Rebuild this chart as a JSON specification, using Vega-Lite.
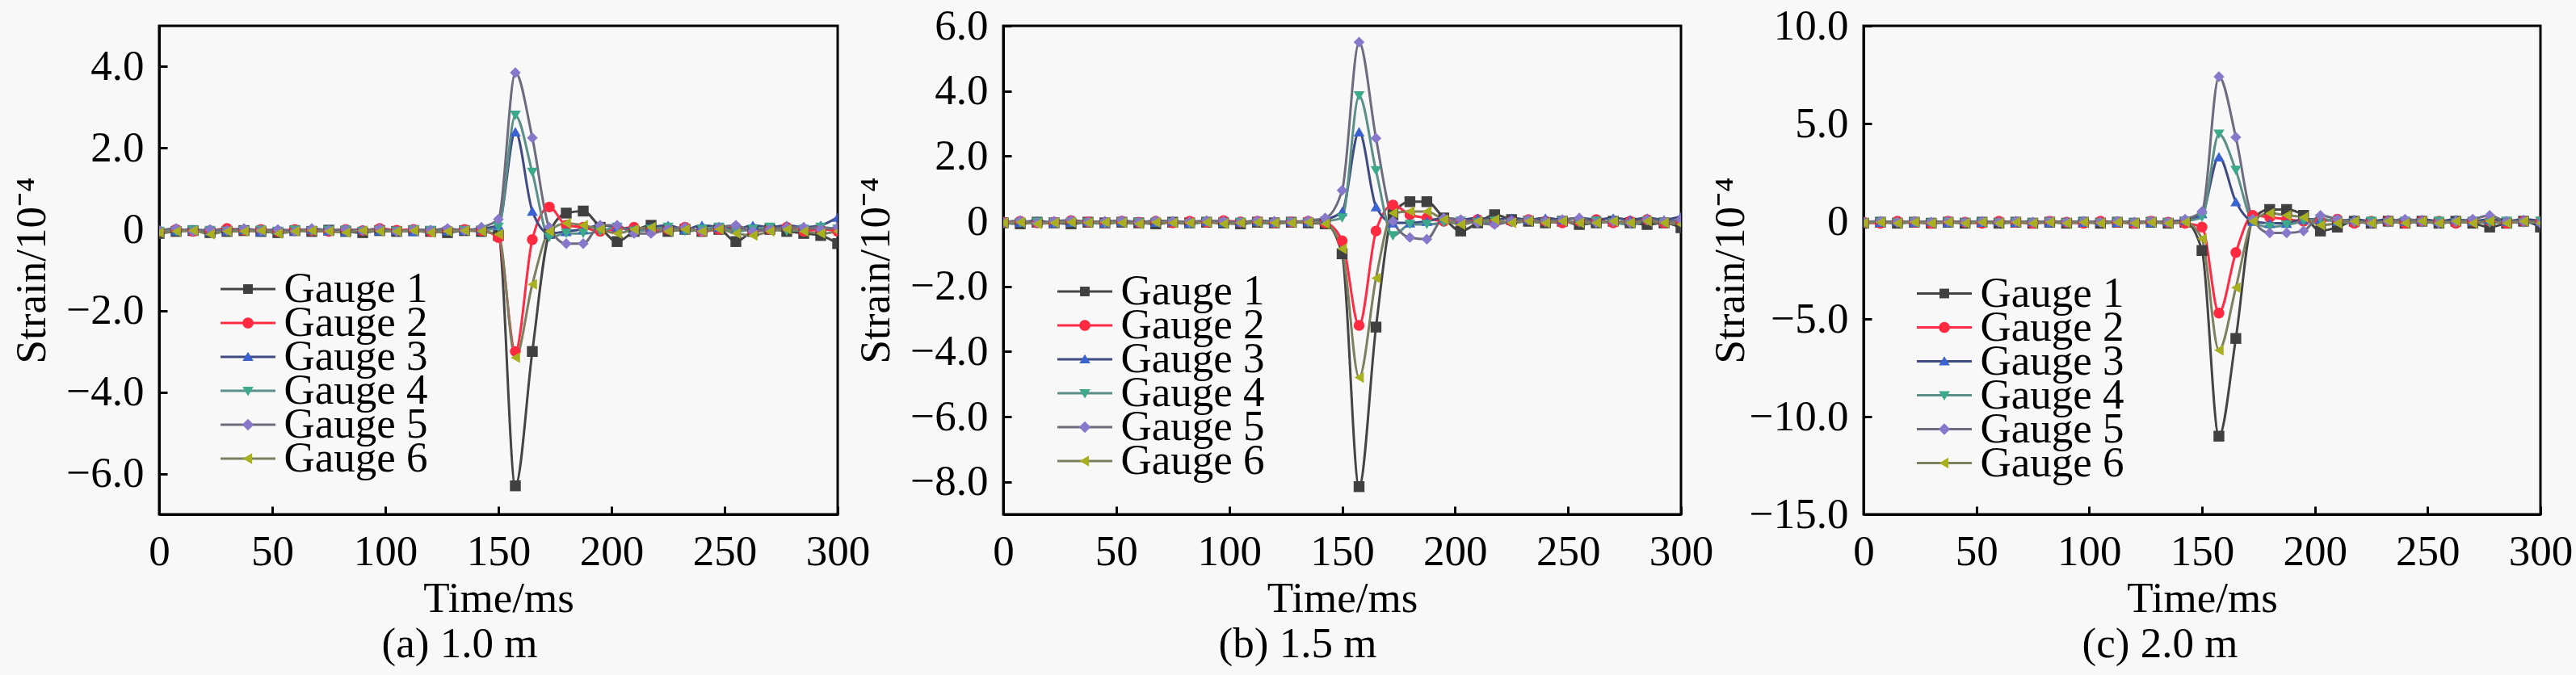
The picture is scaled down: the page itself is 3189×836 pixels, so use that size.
{
 "$schema": "https://vega.github.io/schema/vega-lite/v6.json",
 "autosize": {"type": "none"},
 "padding": {"left": 197, "top": 32, "right": 2992, "bottom": 804},
 "background": "#f8f8f8",
 "datasets": {
  "a": [
   {"t":0,"Gauge 1":-0.10,"Gauge 2":-0.05,"Gauge 3":0.00,"Gauge 4":-0.05,"Gauge 5":-0.03,"Gauge 6":-0.08},
   {"t":7.5,"Gauge 1":-0.05,"Gauge 2":0.00,"Gauge 3":-0.03,"Gauge 4":-0.05,"Gauge 5":0.02,"Gauge 6":-0.05},
   {"t":15,"Gauge 1":-0.03,"Gauge 2":-0.05,"Gauge 3":0.00,"Gauge 4":-0.02,"Gauge 5":-0.05,"Gauge 6":-0.03},
   {"t":22.5,"Gauge 1":-0.08,"Gauge 2":-0.03,"Gauge 3":-0.05,"Gauge 4":-0.03,"Gauge 5":0.00,"Gauge 6":-0.12},
   {"t":30,"Gauge 1":-0.05,"Gauge 2":0.02,"Gauge 3":-0.03,"Gauge 4":-0.05,"Gauge 5":-0.02,"Gauge 6":-0.05},
   {"t":37.5,"Gauge 1":-0.03,"Gauge 2":-0.02,"Gauge 3":0.00,"Gauge 4":-0.03,"Gauge 5":0.02,"Gauge 6":-0.05},
   {"t":45,"Gauge 1":-0.05,"Gauge 2":0.00,"Gauge 3":-0.05,"Gauge 4":-0.02,"Gauge 5":-0.03,"Gauge 6":-0.03},
   {"t":52.5,"Gauge 1":-0.08,"Gauge 2":-0.05,"Gauge 3":-0.02,"Gauge 4":-0.05,"Gauge 5":0.00,"Gauge 6":-0.10},
   {"t":60,"Gauge 1":-0.03,"Gauge 2":0.00,"Gauge 3":-0.03,"Gauge 4":-0.02,"Gauge 5":-0.05,"Gauge 6":-0.05},
   {"t":67.5,"Gauge 1":-0.05,"Gauge 2":-0.03,"Gauge 3":0.00,"Gauge 4":-0.05,"Gauge 5":0.02,"Gauge 6":-0.03},
   {"t":75,"Gauge 1":-0.02,"Gauge 2":-0.05,"Gauge 3":-0.03,"Gauge 4":-0.03,"Gauge 5":-0.02,"Gauge 6":-0.05},
   {"t":82.5,"Gauge 1":-0.05,"Gauge 2":0.00,"Gauge 3":-0.05,"Gauge 4":-0.02,"Gauge 5":0.00,"Gauge 6":-0.08},
   {"t":90,"Gauge 1":-0.08,"Gauge 2":-0.03,"Gauge 3":0.00,"Gauge 4":-0.05,"Gauge 5":-0.03,"Gauge 6":-0.03},
   {"t":97.5,"Gauge 1":-0.03,"Gauge 2":0.02,"Gauge 3":-0.03,"Gauge 4":-0.03,"Gauge 5":0.02,"Gauge 6":-0.05},
   {"t":105,"Gauge 1":-0.05,"Gauge 2":-0.02,"Gauge 3":-0.02,"Gauge 4":-0.05,"Gauge 5":-0.05,"Gauge 6":-0.05},
   {"t":112.5,"Gauge 1":-0.03,"Gauge 2":0.00,"Gauge 3":-0.05,"Gauge 4":-0.02,"Gauge 5":0.00,"Gauge 6":-0.03},
   {"t":120,"Gauge 1":-0.05,"Gauge 2":-0.05,"Gauge 3":0.00,"Gauge 4":-0.03,"Gauge 5":-0.02,"Gauge 6":-0.08},
   {"t":127.5,"Gauge 1":-0.08,"Gauge 2":-0.02,"Gauge 3":-0.03,"Gauge 4":-0.05,"Gauge 5":0.02,"Gauge 6":-0.05},
   {"t":135,"Gauge 1":-0.03,"Gauge 2":0.00,"Gauge 3":-0.02,"Gauge 4":-0.03,"Gauge 5":-0.03,"Gauge 6":-0.03},
   {"t":142.5,"Gauge 1":-0.05,"Gauge 2":-0.03,"Gauge 3":0.02,"Gauge 4":-0.02,"Gauge 5":0.05,"Gauge 6":-0.05},
   {"t":150,"Gauge 1":-0.15,"Gauge 2":-0.20,"Gauge 3":0.10,"Gauge 4":0.05,"Gauge 5":0.25,"Gauge 6":-0.12},
   {"t":157.5,"Gauge 1":-6.30,"Gauge 2":-3.00,"Gauge 3":2.40,"Gauge 4":2.80,"Gauge 5":3.85,"Gauge 6":-3.15},
   {"t":165,"Gauge 1":-3.00,"Gauge 2":-0.25,"Gauge 3":0.45,"Gauge 4":1.40,"Gauge 5":2.25,"Gauge 6":-1.35},
   {"t":172.5,"Gauge 1":-0.10,"Gauge 2":0.55,"Gauge 3":-0.10,"Gauge 4":-0.20,"Gauge 5":0.05,"Gauge 6":-0.05},
   {"t":180,"Gauge 1":0.40,"Gauge 2":0.10,"Gauge 3":-0.05,"Gauge 4":-0.10,"Gauge 5":-0.35,"Gauge 6":0.15},
   {"t":187.5,"Gauge 1":0.45,"Gauge 2":0.05,"Gauge 3":0.00,"Gauge 4":-0.10,"Gauge 5":-0.35,"Gauge 6":0.10},
   {"t":195,"Gauge 1":0.05,"Gauge 2":-0.05,"Gauge 3":0.10,"Gauge 4":-0.05,"Gauge 5":0.10,"Gauge 6":0.00},
   {"t":202.5,"Gauge 1":-0.30,"Gauge 2":0.00,"Gauge 3":0.05,"Gauge 4":0.05,"Gauge 5":0.10,"Gauge 6":-0.10},
   {"t":210,"Gauge 1":-0.05,"Gauge 2":0.05,"Gauge 3":0.00,"Gauge 4":-0.05,"Gauge 5":-0.10,"Gauge 6":0.00},
   {"t":217.5,"Gauge 1":0.10,"Gauge 2":-0.05,"Gauge 3":0.05,"Gauge 4":0.00,"Gauge 5":-0.10,"Gauge 6":0.05},
   {"t":225,"Gauge 1":-0.05,"Gauge 2":0.00,"Gauge 3":0.10,"Gauge 4":0.05,"Gauge 5":0.00,"Gauge 6":-0.05},
   {"t":232.5,"Gauge 1":0.00,"Gauge 2":0.05,"Gauge 3":0.00,"Gauge 4":-0.05,"Gauge 5":0.05,"Gauge 6":0.00},
   {"t":240,"Gauge 1":-0.05,"Gauge 2":-0.05,"Gauge 3":0.10,"Gauge 4":0.00,"Gauge 5":-0.05,"Gauge 6":-0.05},
   {"t":247.5,"Gauge 1":0.00,"Gauge 2":0.00,"Gauge 3":0.05,"Gauge 4":0.05,"Gauge 5":0.05,"Gauge 6":0.00},
   {"t":255,"Gauge 1":-0.30,"Gauge 2":0.05,"Gauge 3":0.00,"Gauge 4":-0.05,"Gauge 5":0.10,"Gauge 6":-0.10},
   {"t":262.5,"Gauge 1":-0.05,"Gauge 2":-0.05,"Gauge 3":0.10,"Gauge 4":0.00,"Gauge 5":-0.05,"Gauge 6":-0.15},
   {"t":270,"Gauge 1":0.00,"Gauge 2":0.00,"Gauge 3":0.05,"Gauge 4":0.05,"Gauge 5":0.00,"Gauge 6":-0.05},
   {"t":277.5,"Gauge 1":-0.05,"Gauge 2":0.05,"Gauge 3":0.10,"Gauge 4":-0.05,"Gauge 5":0.05,"Gauge 6":0.00},
   {"t":285,"Gauge 1":-0.10,"Gauge 2":-0.05,"Gauge 3":0.05,"Gauge 4":0.00,"Gauge 5":0.05,"Gauge 6":-0.05},
   {"t":292.5,"Gauge 1":-0.15,"Gauge 2":0.00,"Gauge 3":0.10,"Gauge 4":0.05,"Gauge 5":0.00,"Gauge 6":-0.10},
   {"t":300,"Gauge 1":-0.35,"Gauge 2":-0.05,"Gauge 3":0.30,"Gauge 4":0.00,"Gauge 5":0.05,"Gauge 6":-0.05}
  ],
  "b": [
   {"t":0,"Gauge 1":-0.05,"Gauge 2":-0.03,"Gauge 3":0.00,"Gauge 4":-0.08,"Gauge 5":-0.03,"Gauge 6":-0.05},
   {"t":7.5,"Gauge 1":-0.08,"Gauge 2":0.00,"Gauge 3":-0.03,"Gauge 4":-0.05,"Gauge 5":0.02,"Gauge 6":-0.03},
   {"t":15,"Gauge 1":-0.03,"Gauge 2":-0.05,"Gauge 3":0.02,"Gauge 4":-0.03,"Gauge 5":-0.05,"Gauge 6":-0.08},
   {"t":22.5,"Gauge 1":-0.05,"Gauge 2":-0.03,"Gauge 3":-0.05,"Gauge 4":-0.05,"Gauge 5":0.00,"Gauge 6":-0.05},
   {"t":30,"Gauge 1":-0.08,"Gauge 2":0.02,"Gauge 3":-0.03,"Gauge 4":-0.03,"Gauge 5":0.03,"Gauge 6":-0.03},
   {"t":37.5,"Gauge 1":-0.03,"Gauge 2":-0.02,"Gauge 3":0.00,"Gauge 4":-0.05,"Gauge 5":-0.02,"Gauge 6":-0.05},
   {"t":45,"Gauge 1":-0.05,"Gauge 2":-0.05,"Gauge 3":-0.05,"Gauge 4":-0.08,"Gauge 5":0.00,"Gauge 6":-0.03},
   {"t":52.5,"Gauge 1":-0.03,"Gauge 2":0.00,"Gauge 3":-0.02,"Gauge 4":-0.03,"Gauge 5":0.02,"Gauge 6":-0.05},
   {"t":60,"Gauge 1":-0.05,"Gauge 2":-0.03,"Gauge 3":0.00,"Gauge 4":-0.05,"Gauge 5":-0.03,"Gauge 6":-0.08},
   {"t":67.5,"Gauge 1":-0.08,"Gauge 2":0.00,"Gauge 3":-0.03,"Gauge 4":-0.03,"Gauge 5":0.02,"Gauge 6":-0.03},
   {"t":75,"Gauge 1":-0.03,"Gauge 2":-0.05,"Gauge 3":0.00,"Gauge 4":-0.05,"Gauge 5":0.00,"Gauge 6":-0.05},
   {"t":82.5,"Gauge 1":-0.05,"Gauge 2":0.00,"Gauge 3":-0.05,"Gauge 4":-0.08,"Gauge 5":-0.02,"Gauge 6":-0.05},
   {"t":90,"Gauge 1":-0.03,"Gauge 2":-0.03,"Gauge 3":0.00,"Gauge 4":-0.03,"Gauge 5":0.02,"Gauge 6":-0.03},
   {"t":97.5,"Gauge 1":-0.05,"Gauge 2":0.02,"Gauge 3":-0.03,"Gauge 4":-0.05,"Gauge 5":0.00,"Gauge 6":-0.08},
   {"t":105,"Gauge 1":-0.08,"Gauge 2":-0.02,"Gauge 3":-0.02,"Gauge 4":-0.03,"Gauge 5":-0.03,"Gauge 6":-0.05},
   {"t":112.5,"Gauge 1":-0.03,"Gauge 2":0.00,"Gauge 3":0.00,"Gauge 4":-0.05,"Gauge 5":0.02,"Gauge 6":-0.03},
   {"t":120,"Gauge 1":-0.05,"Gauge 2":-0.05,"Gauge 3":-0.03,"Gauge 4":-0.08,"Gauge 5":0.00,"Gauge 6":-0.05},
   {"t":127.5,"Gauge 1":-0.03,"Gauge 2":-0.02,"Gauge 3":0.00,"Gauge 4":-0.03,"Gauge 5":-0.02,"Gauge 6":-0.05},
   {"t":135,"Gauge 1":-0.05,"Gauge 2":0.00,"Gauge 3":-0.02,"Gauge 4":-0.05,"Gauge 5":0.02,"Gauge 6":-0.03},
   {"t":142.5,"Gauge 1":-0.08,"Gauge 2":-0.05,"Gauge 3":0.05,"Gauge 4":0.00,"Gauge 5":0.10,"Gauge 6":-0.08},
   {"t":150,"Gauge 1":-1.00,"Gauge 2":-0.60,"Gauge 3":0.30,"Gauge 4":0.10,"Gauge 5":0.95,"Gauge 6":-0.85},
   {"t":157.5,"Gauge 1":-8.15,"Gauge 2":-3.20,"Gauge 3":2.75,"Gauge 4":3.85,"Gauge 5":5.50,"Gauge 6":-4.80},
   {"t":165,"Gauge 1":-3.25,"Gauge 2":-0.30,"Gauge 3":0.45,"Gauge 4":1.55,"Gauge 5":2.55,"Gauge 6":-1.75},
   {"t":172.5,"Gauge 1":0.20,"Gauge 2":0.50,"Gauge 3":-0.05,"Gauge 4":-0.45,"Gauge 5":0.00,"Gauge 6":0.25},
   {"t":180,"Gauge 1":0.60,"Gauge 2":0.20,"Gauge 3":-0.05,"Gauge 4":-0.10,"Gauge 5":-0.50,"Gauge 6":0.30},
   {"t":187.5,"Gauge 1":0.60,"Gauge 2":0.10,"Gauge 3":0.00,"Gauge 4":-0.10,"Gauge 5":-0.55,"Gauge 6":0.30},
   {"t":195,"Gauge 1":0.10,"Gauge 2":0.00,"Gauge 3":0.10,"Gauge 4":-0.05,"Gauge 5":0.10,"Gauge 6":0.05},
   {"t":202.5,"Gauge 1":-0.30,"Gauge 2":0.00,"Gauge 3":0.05,"Gauge 4":0.00,"Gauge 5":0.05,"Gauge 6":-0.10},
   {"t":210,"Gauge 1":-0.05,"Gauge 2":0.05,"Gauge 3":0.10,"Gauge 4":-0.05,"Gauge 5":-0.05,"Gauge 6":0.00},
   {"t":217.5,"Gauge 1":0.20,"Gauge 2":-0.05,"Gauge 3":0.05,"Gauge 4":0.00,"Gauge 5":-0.10,"Gauge 6":0.05},
   {"t":225,"Gauge 1":0.05,"Gauge 2":0.00,"Gauge 3":0.10,"Gauge 4":-0.05,"Gauge 5":0.00,"Gauge 6":-0.05},
   {"t":232.5,"Gauge 1":0.00,"Gauge 2":0.05,"Gauge 3":0.05,"Gauge 4":0.00,"Gauge 5":0.05,"Gauge 6":0.00},
   {"t":240,"Gauge 1":-0.05,"Gauge 2":0.00,"Gauge 3":0.10,"Gauge 4":-0.05,"Gauge 5":0.00,"Gauge 6":-0.05},
   {"t":247.5,"Gauge 1":0.00,"Gauge 2":-0.05,"Gauge 3":0.05,"Gauge 4":0.00,"Gauge 5":0.05,"Gauge 6":0.00},
   {"t":255,"Gauge 1":-0.10,"Gauge 2":0.00,"Gauge 3":0.10,"Gauge 4":-0.05,"Gauge 5":0.10,"Gauge 6":-0.05},
   {"t":262.5,"Gauge 1":-0.05,"Gauge 2":0.05,"Gauge 3":0.05,"Gauge 4":0.00,"Gauge 5":-0.05,"Gauge 6":-0.05},
   {"t":270,"Gauge 1":0.00,"Gauge 2":-0.05,"Gauge 3":0.10,"Gauge 4":-0.05,"Gauge 5":0.00,"Gauge 6":0.00},
   {"t":277.5,"Gauge 1":-0.05,"Gauge 2":0.00,"Gauge 3":0.05,"Gauge 4":-0.10,"Gauge 5":-0.05,"Gauge 6":-0.05},
   {"t":285,"Gauge 1":-0.10,"Gauge 2":0.05,"Gauge 3":0.10,"Gauge 4":0.00,"Gauge 5":0.05,"Gauge 6":0.00},
   {"t":292.5,"Gauge 1":-0.05,"Gauge 2":-0.05,"Gauge 3":0.05,"Gauge 4":-0.05,"Gauge 5":0.00,"Gauge 6":-0.05},
   {"t":300,"Gauge 1":-0.20,"Gauge 2":0.00,"Gauge 3":0.15,"Gauge 4":-0.05,"Gauge 5":0.05,"Gauge 6":-0.10}
  ],
  "c": [
   {"t":0,"Gauge 1":-0.10,"Gauge 2":-0.05,"Gauge 3":0.00,"Gauge 4":-0.10,"Gauge 5":-0.05,"Gauge 6":-0.10},
   {"t":7.5,"Gauge 1":-0.05,"Gauge 2":-0.10,"Gauge 3":-0.05,"Gauge 4":-0.05,"Gauge 5":0.00,"Gauge 6":-0.05},
   {"t":15,"Gauge 1":-0.10,"Gauge 2":0.00,"Gauge 3":0.00,"Gauge 4":-0.10,"Gauge 5":-0.05,"Gauge 6":-0.10},
   {"t":22.5,"Gauge 1":-0.05,"Gauge 2":-0.05,"Gauge 3":-0.05,"Gauge 4":-0.05,"Gauge 5":0.00,"Gauge 6":-0.05},
   {"t":30,"Gauge 1":-0.10,"Gauge 2":-0.10,"Gauge 3":0.00,"Gauge 4":-0.10,"Gauge 5":-0.05,"Gauge 6":-0.10},
   {"t":37.5,"Gauge 1":-0.05,"Gauge 2":0.00,"Gauge 3":-0.05,"Gauge 4":-0.05,"Gauge 5":0.00,"Gauge 6":-0.05},
   {"t":45,"Gauge 1":-0.10,"Gauge 2":-0.05,"Gauge 3":0.00,"Gauge 4":-0.10,"Gauge 5":-0.05,"Gauge 6":-0.10},
   {"t":52.5,"Gauge 1":-0.05,"Gauge 2":-0.10,"Gauge 3":-0.05,"Gauge 4":-0.05,"Gauge 5":0.00,"Gauge 6":-0.05},
   {"t":60,"Gauge 1":-0.10,"Gauge 2":0.00,"Gauge 3":0.00,"Gauge 4":-0.10,"Gauge 5":-0.05,"Gauge 6":-0.10},
   {"t":67.5,"Gauge 1":-0.05,"Gauge 2":-0.05,"Gauge 3":-0.05,"Gauge 4":-0.05,"Gauge 5":0.00,"Gauge 6":-0.05},
   {"t":75,"Gauge 1":-0.10,"Gauge 2":-0.10,"Gauge 3":0.00,"Gauge 4":-0.10,"Gauge 5":-0.05,"Gauge 6":-0.10},
   {"t":82.5,"Gauge 1":-0.05,"Gauge 2":0.00,"Gauge 3":-0.05,"Gauge 4":-0.05,"Gauge 5":0.00,"Gauge 6":-0.05},
   {"t":90,"Gauge 1":-0.10,"Gauge 2":-0.05,"Gauge 3":0.00,"Gauge 4":-0.10,"Gauge 5":-0.05,"Gauge 6":-0.10},
   {"t":97.5,"Gauge 1":-0.05,"Gauge 2":-0.10,"Gauge 3":-0.05,"Gauge 4":-0.05,"Gauge 5":0.00,"Gauge 6":-0.05},
   {"t":105,"Gauge 1":-0.10,"Gauge 2":0.00,"Gauge 3":0.00,"Gauge 4":-0.10,"Gauge 5":-0.05,"Gauge 6":-0.10},
   {"t":112.5,"Gauge 1":-0.05,"Gauge 2":-0.05,"Gauge 3":-0.05,"Gauge 4":-0.05,"Gauge 5":0.00,"Gauge 6":-0.05},
   {"t":120,"Gauge 1":-0.10,"Gauge 2":-0.10,"Gauge 3":0.00,"Gauge 4":-0.10,"Gauge 5":-0.05,"Gauge 6":-0.10},
   {"t":127.5,"Gauge 1":-0.05,"Gauge 2":0.00,"Gauge 3":-0.05,"Gauge 4":-0.05,"Gauge 5":0.00,"Gauge 6":-0.05},
   {"t":135,"Gauge 1":-0.10,"Gauge 2":-0.05,"Gauge 3":0.00,"Gauge 4":-0.10,"Gauge 5":-0.05,"Gauge 6":-0.10},
   {"t":142.5,"Gauge 1":-0.05,"Gauge 2":-0.10,"Gauge 3":0.05,"Gauge 4":0.00,"Gauge 5":0.10,"Gauge 6":-0.05},
   {"t":150,"Gauge 1":-1.50,"Gauge 2":-0.30,"Gauge 3":0.40,"Gauge 4":0.20,"Gauge 5":0.50,"Gauge 6":-0.90},
   {"t":157.5,"Gauge 1":-11.00,"Gauge 2":-4.70,"Gauge 3":3.30,"Gauge 4":4.45,"Gauge 5":7.40,"Gauge 6":-6.60},
   {"t":165,"Gauge 1":-6.00,"Gauge 2":-1.60,"Gauge 3":1.00,"Gauge 4":2.60,"Gauge 5":4.30,"Gauge 6":-3.40},
   {"t":172.5,"Gauge 1":0.10,"Gauge 2":0.30,"Gauge 3":0.00,"Gauge 4":0.00,"Gauge 5":0.10,"Gauge 6":0.00},
   {"t":180,"Gauge 1":0.60,"Gauge 2":0.20,"Gauge 3":-0.10,"Gauge 4":-0.30,"Gauge 5":-0.60,"Gauge 6":0.40},
   {"t":187.5,"Gauge 1":0.60,"Gauge 2":0.10,"Gauge 3":-0.10,"Gauge 4":-0.20,"Gauge 5":-0.60,"Gauge 6":0.30},
   {"t":195,"Gauge 1":0.30,"Gauge 2":0.00,"Gauge 3":0.10,"Gauge 4":0.00,"Gauge 5":-0.50,"Gauge 6":0.20},
   {"t":202.5,"Gauge 1":-0.50,"Gauge 2":0.00,"Gauge 3":0.10,"Gauge 4":0.10,"Gauge 5":0.30,"Gauge 6":-0.20},
   {"t":210,"Gauge 1":-0.30,"Gauge 2":0.10,"Gauge 3":0.00,"Gauge 4":0.00,"Gauge 5":0.10,"Gauge 6":-0.10},
   {"t":217.5,"Gauge 1":0.00,"Gauge 2":-0.10,"Gauge 3":0.10,"Gauge 4":-0.10,"Gauge 5":0.00,"Gauge 6":0.00},
   {"t":225,"Gauge 1":-0.10,"Gauge 2":0.00,"Gauge 3":0.00,"Gauge 4":0.00,"Gauge 5":-0.10,"Gauge 6":-0.10},
   {"t":232.5,"Gauge 1":0.00,"Gauge 2":0.00,"Gauge 3":0.10,"Gauge 4":-0.10,"Gauge 5":0.00,"Gauge 6":0.00},
   {"t":240,"Gauge 1":-0.10,"Gauge 2":-0.10,"Gauge 3":0.00,"Gauge 4":0.00,"Gauge 5":0.10,"Gauge 6":-0.10},
   {"t":247.5,"Gauge 1":0.00,"Gauge 2":0.00,"Gauge 3":0.10,"Gauge 4":-0.10,"Gauge 5":0.00,"Gauge 6":0.00},
   {"t":255,"Gauge 1":-0.10,"Gauge 2":0.00,"Gauge 3":0.00,"Gauge 4":0.00,"Gauge 5":-0.10,"Gauge 6":-0.10},
   {"t":262.5,"Gauge 1":0.00,"Gauge 2":-0.10,"Gauge 3":0.10,"Gauge 4":-0.10,"Gauge 5":0.00,"Gauge 6":0.00},
   {"t":270,"Gauge 1":-0.10,"Gauge 2":0.00,"Gauge 3":0.00,"Gauge 4":0.00,"Gauge 5":0.10,"Gauge 6":-0.10},
   {"t":277.5,"Gauge 1":-0.30,"Gauge 2":0.00,"Gauge 3":0.10,"Gauge 4":-0.10,"Gauge 5":0.30,"Gauge 6":0.00},
   {"t":285,"Gauge 1":-0.10,"Gauge 2":-0.10,"Gauge 3":0.00,"Gauge 4":0.00,"Gauge 5":0.00,"Gauge 6":-0.10},
   {"t":292.5,"Gauge 1":0.00,"Gauge 2":0.00,"Gauge 3":0.10,"Gauge 4":-0.10,"Gauge 5":0.00,"Gauge 6":0.00},
   {"t":300,"Gauge 1":-0.30,"Gauge 2":0.00,"Gauge 3":0.00,"Gauge 4":0.00,"Gauge 5":-0.10,"Gauge 6":-0.10}
  ]
 },
 "hconcat": [
  {
   "width": 840, "height": 605,
   "title": {"text": "(a) 1.0 m", "orient": "bottom", "anchor": "middle", "frame": "group", "dx": -48, "offset": 4},
   "data": {"name": "a"},
   "transform": [{"fold": ["Gauge 1","Gauge 2","Gauge 3","Gauge 4","Gauge 5","Gauge 6"], "as": ["gauge","strain"]}],
   "encoding": {
    "x": {"field": "t", "type": "quantitative", "scale": {"domain": [0,300], "nice": false}, "axis": {"values": [0,50,100,150,200,250,300], "format": "d", "title": "Time/ms"}},
    "y": {"field": "strain", "type": "quantitative", "scale": {"domain": [-7,5], "nice": false, "zero": false}, "axis": {"values": [-6,-4,-2,0,2,4], "labelExpr": "datum.value === 0 ? '0' : format(datum.value, '.1f')", "title": "Strain/10⁻⁴"}}
   },
   "layer": [
    {"mark": {"type": "line", "interpolate": "monotone", "strokeWidth": 3, "clip": true},
     "encoding": {"color": {"field": "gauge", "type": "nominal", "scale": {"domain": ["Gauge 1","Gauge 2","Gauge 3","Gauge 4","Gauge 5","Gauge 6"], "range": ["#444444","#ff2a44","#3f4a80","#5b8f88","#6c6c7c","#7c8060"]}, "legend": null}}},
    {"mark": {"type": "point", "filled": true, "size": 180, "opacity": 1, "clip": true},
     "encoding": {
      "color": {"field": "gauge", "type": "nominal", "scale": {"domain": ["Gauge 1","Gauge 2","Gauge 3","Gauge 4","Gauge 5","Gauge 6"], "range": ["#404040","#ff2a40","#3a62d0","#3aaa8a","#8878cc","#a8b020"]}, "legend": null},
      "shape": {"field": "gauge", "type": "nominal", "scale": {"domain": ["Gauge 1","Gauge 2","Gauge 3","Gauge 4","Gauge 5","Gauge 6"], "range": ["square","circle","triangle-up","triangle-down","diamond","triangle-left"]}, "legend": null}}},
    {"transform": [{"filter": "false"}], "mark": {"type": "line", "strokeWidth": 3}, "encoding": {"color": {"field": "gauge", "type": "nominal", "scale": {"domain": ["Gauge 1"], "range": ["#444444"]}, "legend": {"legendX": 76, "legendY": 299.5, "title": null, "symbolType": "M-4,0H4", "labelExpr": "''"}}}},
    {"transform": [{"filter": "false"}], "mark": {"type": "line", "strokeWidth": 3}, "encoding": {"color": {"field": "gauge", "type": "nominal", "scale": {"domain": ["Gauge 2"], "range": ["#ff2a44"]}, "legend": {"legendX": 76, "legendY": 341.5, "title": null, "symbolType": "M-4,0H4", "labelExpr": "''"}}}},
    {"transform": [{"filter": "false"}], "mark": {"type": "line", "strokeWidth": 3}, "encoding": {"color": {"field": "gauge", "type": "nominal", "scale": {"domain": ["Gauge 3"], "range": ["#3f4a80"]}, "legend": {"legendX": 76, "legendY": 383.5, "title": null, "symbolType": "M-4,0H4", "labelExpr": "''"}}}},
    {"transform": [{"filter": "false"}], "mark": {"type": "line", "strokeWidth": 3}, "encoding": {"color": {"field": "gauge", "type": "nominal", "scale": {"domain": ["Gauge 4"], "range": ["#5b8f88"]}, "legend": {"legendX": 76, "legendY": 425.5, "title": null, "symbolType": "M-4,0H4", "labelExpr": "''"}}}},
    {"transform": [{"filter": "false"}], "mark": {"type": "line", "strokeWidth": 3}, "encoding": {"color": {"field": "gauge", "type": "nominal", "scale": {"domain": ["Gauge 5"], "range": ["#6c6c7c"]}, "legend": {"legendX": 76, "legendY": 467.5, "title": null, "symbolType": "M-4,0H4", "labelExpr": "''"}}}},
    {"transform": [{"filter": "false"}], "mark": {"type": "line", "strokeWidth": 3}, "encoding": {"color": {"field": "gauge", "type": "nominal", "scale": {"domain": ["Gauge 6"], "range": ["#7c8060"]}, "legend": {"legendX": 76, "legendY": 509.5, "title": null, "symbolType": "M-4,0H4", "labelExpr": "''"}}}},
    {"transform": [{"filter": "false"}], "mark": {"type": "point", "filled": true, "size": 289, "opacity": 1, "fill": "#404040"},
     "encoding": {"shape": {"field": "gauge", "type": "nominal", "scale": {"domain": ["Gauge 1"], "range": ["M-0.7,-0.7H0.7V0.7H-0.7Z"]}, "legend": {"legendX": 76, "legendY": 299.5, "title": null, "symbolFillColor": "#404040"}}}},
    {"transform": [{"filter": "false"}], "mark": {"type": "point", "filled": true, "size": 289, "opacity": 1, "fill": "#ff2a40"},
     "encoding": {"shape": {"field": "gauge", "type": "nominal", "scale": {"domain": ["Gauge 2"], "range": ["M-0.8,0A0.8,0.8,0,1,0,0.8,0A0.8,0.8,0,1,0,-0.8,0Z"]}, "legend": {"legendX": 76, "legendY": 341.5, "title": null, "symbolFillColor": "#ff2a40"}}}},
    {"transform": [{"filter": "false"}], "mark": {"type": "point", "filled": true, "size": 289, "opacity": 1, "fill": "#3a62d0"},
     "encoding": {"shape": {"field": "gauge", "type": "nominal", "scale": {"domain": ["Gauge 3"], "range": ["M0,-0.75L0.8,0.6L-0.8,0.6Z"]}, "legend": {"legendX": 76, "legendY": 383.5, "title": null, "symbolFillColor": "#3a62d0"}}}},
    {"transform": [{"filter": "false"}], "mark": {"type": "point", "filled": true, "size": 289, "opacity": 1, "fill": "#3aaa8a"},
     "encoding": {"shape": {"field": "gauge", "type": "nominal", "scale": {"domain": ["Gauge 4"], "range": ["M0,0.75L0.8,-0.6L-0.8,-0.6Z"]}, "legend": {"legendX": 76, "legendY": 425.5, "title": null, "symbolFillColor": "#3aaa8a"}}}},
    {"transform": [{"filter": "false"}], "mark": {"type": "point", "filled": true, "size": 289, "opacity": 1, "fill": "#8878cc"},
     "encoding": {"shape": {"field": "gauge", "type": "nominal", "scale": {"domain": ["Gauge 5"], "range": ["M-0.85,0L0,-0.85L0.85,0L0,0.85Z"]}, "legend": {"legendX": 76, "legendY": 467.5, "title": null, "symbolFillColor": "#8878cc"}}}},
    {"transform": [{"filter": "false"}], "mark": {"type": "point", "filled": true, "size": 289, "opacity": 1, "fill": "#a8b020"},
     "encoding": {"shape": {"field": "gauge", "type": "nominal", "scale": {"domain": ["Gauge 6"], "range": ["M-0.75,0L0.6,-0.8L0.6,0.8Z"]}, "legend": {"legendX": 76, "legendY": 509.5, "title": null, "symbolFillColor": "#a8b020"}}}}
   ],
   "resolve": {"scale": {"color": "independent", "shape": "independent"}, "legend": {"color": "independent", "shape": "independent"}}
  },
  {"width": 205, "height": 605, "data": {"values": [{"t": 0}]}, "mark": {"type": "text", "text": ""}, "view": {"stroke": null}},
  {
   "width": 839, "height": 605,
   "title": {"text": "(b) 1.5 m", "orient": "bottom", "anchor": "middle", "frame": "group", "dx": -55, "offset": 4},
   "data": {"name": "b"},
   "transform": [{"fold": ["Gauge 1","Gauge 2","Gauge 3","Gauge 4","Gauge 5","Gauge 6"], "as": ["gauge","strain"]}],
   "encoding": {
    "x": {"field": "t", "type": "quantitative", "scale": {"domain": [0,300], "nice": false}, "axis": {"values": [0,50,100,150,200,250,300], "format": "d", "title": "Time/ms"}},
    "y": {"field": "strain", "type": "quantitative", "scale": {"domain": [-9,6], "nice": false, "zero": false}, "axis": {"values": [-8,-6,-4,-2,0,2,4,6], "labelExpr": "datum.value === 0 ? '0' : format(datum.value, '.1f')", "title": "Strain/10⁻⁴"}}
   },
   "layer": [
    {"mark": {"type": "line", "interpolate": "monotone", "strokeWidth": 3, "clip": true},
     "encoding": {"color": {"field": "gauge", "type": "nominal", "scale": {"domain": ["Gauge 1","Gauge 2","Gauge 3","Gauge 4","Gauge 5","Gauge 6"], "range": ["#444444","#ff2a44","#3f4a80","#5b8f88","#6c6c7c","#7c8060"]}, "legend": null}}},
    {"mark": {"type": "point", "filled": true, "size": 180, "opacity": 1, "clip": true},
     "encoding": {
      "color": {"field": "gauge", "type": "nominal", "scale": {"domain": ["Gauge 1","Gauge 2","Gauge 3","Gauge 4","Gauge 5","Gauge 6"], "range": ["#404040","#ff2a40","#3a62d0","#3aaa8a","#8878cc","#a8b020"]}, "legend": null},
      "shape": {"field": "gauge", "type": "nominal", "scale": {"domain": ["Gauge 1","Gauge 2","Gauge 3","Gauge 4","Gauge 5","Gauge 6"], "range": ["square","circle","triangle-up","triangle-down","diamond","triangle-left"]}, "legend": null}}},
    {"transform": [{"filter": "false"}], "mark": {"type": "line", "strokeWidth": 3}, "encoding": {"color": {"field": "gauge", "type": "nominal", "scale": {"domain": ["Gauge 1"], "range": ["#444444"]}, "legend": {"legendX": 67, "legendY": 302.5, "title": null, "symbolType": "M-4,0H4", "labelExpr": "''"}}}},
    {"transform": [{"filter": "false"}], "mark": {"type": "line", "strokeWidth": 3}, "encoding": {"color": {"field": "gauge", "type": "nominal", "scale": {"domain": ["Gauge 2"], "range": ["#ff2a44"]}, "legend": {"legendX": 67, "legendY": 344.5, "title": null, "symbolType": "M-4,0H4", "labelExpr": "''"}}}},
    {"transform": [{"filter": "false"}], "mark": {"type": "line", "strokeWidth": 3}, "encoding": {"color": {"field": "gauge", "type": "nominal", "scale": {"domain": ["Gauge 3"], "range": ["#3f4a80"]}, "legend": {"legendX": 67, "legendY": 386.5, "title": null, "symbolType": "M-4,0H4", "labelExpr": "''"}}}},
    {"transform": [{"filter": "false"}], "mark": {"type": "line", "strokeWidth": 3}, "encoding": {"color": {"field": "gauge", "type": "nominal", "scale": {"domain": ["Gauge 4"], "range": ["#5b8f88"]}, "legend": {"legendX": 67, "legendY": 428.5, "title": null, "symbolType": "M-4,0H4", "labelExpr": "''"}}}},
    {"transform": [{"filter": "false"}], "mark": {"type": "line", "strokeWidth": 3}, "encoding": {"color": {"field": "gauge", "type": "nominal", "scale": {"domain": ["Gauge 5"], "range": ["#6c6c7c"]}, "legend": {"legendX": 67, "legendY": 470.5, "title": null, "symbolType": "M-4,0H4", "labelExpr": "''"}}}},
    {"transform": [{"filter": "false"}], "mark": {"type": "line", "strokeWidth": 3}, "encoding": {"color": {"field": "gauge", "type": "nominal", "scale": {"domain": ["Gauge 6"], "range": ["#7c8060"]}, "legend": {"legendX": 67, "legendY": 512.5, "title": null, "symbolType": "M-4,0H4", "labelExpr": "''"}}}},
    {"transform": [{"filter": "false"}], "mark": {"type": "point", "filled": true, "size": 289, "opacity": 1, "fill": "#404040"},
     "encoding": {"shape": {"field": "gauge", "type": "nominal", "scale": {"domain": ["Gauge 1"], "range": ["M-0.7,-0.7H0.7V0.7H-0.7Z"]}, "legend": {"legendX": 67, "legendY": 302.5, "title": null, "symbolFillColor": "#404040"}}}},
    {"transform": [{"filter": "false"}], "mark": {"type": "point", "filled": true, "size": 289, "opacity": 1, "fill": "#ff2a40"},
     "encoding": {"shape": {"field": "gauge", "type": "nominal", "scale": {"domain": ["Gauge 2"], "range": ["M-0.8,0A0.8,0.8,0,1,0,0.8,0A0.8,0.8,0,1,0,-0.8,0Z"]}, "legend": {"legendX": 67, "legendY": 344.5, "title": null, "symbolFillColor": "#ff2a40"}}}},
    {"transform": [{"filter": "false"}], "mark": {"type": "point", "filled": true, "size": 289, "opacity": 1, "fill": "#3a62d0"},
     "encoding": {"shape": {"field": "gauge", "type": "nominal", "scale": {"domain": ["Gauge 3"], "range": ["M0,-0.75L0.8,0.6L-0.8,0.6Z"]}, "legend": {"legendX": 67, "legendY": 386.5, "title": null, "symbolFillColor": "#3a62d0"}}}},
    {"transform": [{"filter": "false"}], "mark": {"type": "point", "filled": true, "size": 289, "opacity": 1, "fill": "#3aaa8a"},
     "encoding": {"shape": {"field": "gauge", "type": "nominal", "scale": {"domain": ["Gauge 4"], "range": ["M0,0.75L0.8,-0.6L-0.8,-0.6Z"]}, "legend": {"legendX": 67, "legendY": 428.5, "title": null, "symbolFillColor": "#3aaa8a"}}}},
    {"transform": [{"filter": "false"}], "mark": {"type": "point", "filled": true, "size": 289, "opacity": 1, "fill": "#8878cc"},
     "encoding": {"shape": {"field": "gauge", "type": "nominal", "scale": {"domain": ["Gauge 5"], "range": ["M-0.85,0L0,-0.85L0.85,0L0,0.85Z"]}, "legend": {"legendX": 67, "legendY": 470.5, "title": null, "symbolFillColor": "#8878cc"}}}},
    {"transform": [{"filter": "false"}], "mark": {"type": "point", "filled": true, "size": 289, "opacity": 1, "fill": "#a8b020"},
     "encoding": {"shape": {"field": "gauge", "type": "nominal", "scale": {"domain": ["Gauge 6"], "range": ["M-0.75,0L0.6,-0.8L0.6,0.8Z"]}, "legend": {"legendX": 67, "legendY": 512.5, "title": null, "symbolFillColor": "#a8b020"}}}}
   ],
   "resolve": {"scale": {"color": "independent", "shape": "independent"}, "legend": {"color": "independent", "shape": "independent"}}
  },
  {"width": 226, "height": 605, "data": {"values": [{"t": 0}]}, "mark": {"type": "text", "text": ""}, "view": {"stroke": null}},
  {
   "width": 838, "height": 605,
   "title": {"text": "(c) 2.0 m", "orient": "bottom", "anchor": "middle", "frame": "group", "dx": -52, "offset": 4},
   "data": {"name": "c"},
   "transform": [{"fold": ["Gauge 1","Gauge 2","Gauge 3","Gauge 4","Gauge 5","Gauge 6"], "as": ["gauge","strain"]}],
   "encoding": {
    "x": {"field": "t", "type": "quantitative", "scale": {"domain": [0,300], "nice": false}, "axis": {"values": [0,50,100,150,200,250,300], "format": "d", "title": "Time/ms"}},
    "y": {"field": "strain", "type": "quantitative", "scale": {"domain": [-15,10], "nice": false, "zero": false}, "axis": {"values": [-15,-10,-5,0,5,10], "labelExpr": "datum.value === 0 ? '0' : format(datum.value, '.1f')", "title": "Strain/10⁻⁴", "titleX": -149}}
   },
   "layer": [
    {"mark": {"type": "line", "interpolate": "monotone", "strokeWidth": 3, "clip": true},
     "encoding": {"color": {"field": "gauge", "type": "nominal", "scale": {"domain": ["Gauge 1","Gauge 2","Gauge 3","Gauge 4","Gauge 5","Gauge 6"], "range": ["#444444","#ff2a44","#3f4a80","#5b8f88","#6c6c7c","#7c8060"]}, "legend": null}}},
    {"mark": {"type": "point", "filled": true, "size": 180, "opacity": 1, "clip": true},
     "encoding": {
      "color": {"field": "gauge", "type": "nominal", "scale": {"domain": ["Gauge 1","Gauge 2","Gauge 3","Gauge 4","Gauge 5","Gauge 6"], "range": ["#404040","#ff2a40","#3a62d0","#3aaa8a","#8878cc","#a8b020"]}, "legend": null},
      "shape": {"field": "gauge", "type": "nominal", "scale": {"domain": ["Gauge 1","Gauge 2","Gauge 3","Gauge 4","Gauge 5","Gauge 6"], "range": ["square","circle","triangle-up","triangle-down","diamond","triangle-left"]}, "legend": null}}},
    {"transform": [{"filter": "false"}], "mark": {"type": "line", "strokeWidth": 3}, "encoding": {"color": {"field": "gauge", "type": "nominal", "scale": {"domain": ["Gauge 1"], "range": ["#444444"]}, "legend": {"legendX": 66, "legendY": 305, "title": null, "symbolType": "M-4,0H4", "labelExpr": "''"}}}},
    {"transform": [{"filter": "false"}], "mark": {"type": "line", "strokeWidth": 3}, "encoding": {"color": {"field": "gauge", "type": "nominal", "scale": {"domain": ["Gauge 2"], "range": ["#ff2a44"]}, "legend": {"legendX": 66, "legendY": 347, "title": null, "symbolType": "M-4,0H4", "labelExpr": "''"}}}},
    {"transform": [{"filter": "false"}], "mark": {"type": "line", "strokeWidth": 3}, "encoding": {"color": {"field": "gauge", "type": "nominal", "scale": {"domain": ["Gauge 3"], "range": ["#3f4a80"]}, "legend": {"legendX": 66, "legendY": 389, "title": null, "symbolType": "M-4,0H4", "labelExpr": "''"}}}},
    {"transform": [{"filter": "false"}], "mark": {"type": "line", "strokeWidth": 3}, "encoding": {"color": {"field": "gauge", "type": "nominal", "scale": {"domain": ["Gauge 4"], "range": ["#5b8f88"]}, "legend": {"legendX": 66, "legendY": 431, "title": null, "symbolType": "M-4,0H4", "labelExpr": "''"}}}},
    {"transform": [{"filter": "false"}], "mark": {"type": "line", "strokeWidth": 3}, "encoding": {"color": {"field": "gauge", "type": "nominal", "scale": {"domain": ["Gauge 5"], "range": ["#6c6c7c"]}, "legend": {"legendX": 66, "legendY": 473, "title": null, "symbolType": "M-4,0H4", "labelExpr": "''"}}}},
    {"transform": [{"filter": "false"}], "mark": {"type": "line", "strokeWidth": 3}, "encoding": {"color": {"field": "gauge", "type": "nominal", "scale": {"domain": ["Gauge 6"], "range": ["#7c8060"]}, "legend": {"legendX": 66, "legendY": 515, "title": null, "symbolType": "M-4,0H4", "labelExpr": "''"}}}},
    {"transform": [{"filter": "false"}], "mark": {"type": "point", "filled": true, "size": 289, "opacity": 1, "fill": "#404040"},
     "encoding": {"shape": {"field": "gauge", "type": "nominal", "scale": {"domain": ["Gauge 1"], "range": ["M-0.7,-0.7H0.7V0.7H-0.7Z"]}, "legend": {"legendX": 66, "legendY": 305, "title": null, "symbolFillColor": "#404040"}}}},
    {"transform": [{"filter": "false"}], "mark": {"type": "point", "filled": true, "size": 289, "opacity": 1, "fill": "#ff2a40"},
     "encoding": {"shape": {"field": "gauge", "type": "nominal", "scale": {"domain": ["Gauge 2"], "range": ["M-0.8,0A0.8,0.8,0,1,0,0.8,0A0.8,0.8,0,1,0,-0.8,0Z"]}, "legend": {"legendX": 66, "legendY": 347, "title": null, "symbolFillColor": "#ff2a40"}}}},
    {"transform": [{"filter": "false"}], "mark": {"type": "point", "filled": true, "size": 289, "opacity": 1, "fill": "#3a62d0"},
     "encoding": {"shape": {"field": "gauge", "type": "nominal", "scale": {"domain": ["Gauge 3"], "range": ["M0,-0.75L0.8,0.6L-0.8,0.6Z"]}, "legend": {"legendX": 66, "legendY": 389, "title": null, "symbolFillColor": "#3a62d0"}}}},
    {"transform": [{"filter": "false"}], "mark": {"type": "point", "filled": true, "size": 289, "opacity": 1, "fill": "#3aaa8a"},
     "encoding": {"shape": {"field": "gauge", "type": "nominal", "scale": {"domain": ["Gauge 4"], "range": ["M0,0.75L0.8,-0.6L-0.8,-0.6Z"]}, "legend": {"legendX": 66, "legendY": 431, "title": null, "symbolFillColor": "#3aaa8a"}}}},
    {"transform": [{"filter": "false"}], "mark": {"type": "point", "filled": true, "size": 289, "opacity": 1, "fill": "#8878cc"},
     "encoding": {"shape": {"field": "gauge", "type": "nominal", "scale": {"domain": ["Gauge 5"], "range": ["M-0.85,0L0,-0.85L0.85,0L0,0.85Z"]}, "legend": {"legendX": 66, "legendY": 473, "title": null, "symbolFillColor": "#8878cc"}}}},
    {"transform": [{"filter": "false"}], "mark": {"type": "point", "filled": true, "size": 289, "opacity": 1, "fill": "#a8b020"},
     "encoding": {"shape": {"field": "gauge", "type": "nominal", "scale": {"domain": ["Gauge 6"], "range": ["M-0.75,0L0.6,-0.8L0.6,0.8Z"]}, "legend": {"legendX": 66, "legendY": 515, "title": null, "symbolFillColor": "#a8b020"}}}}
   ],
   "resolve": {"scale": {"color": "independent", "shape": "independent"}, "legend": {"color": "independent", "shape": "independent"}}
  }
 ],
 "spacing": 0,
 "bounds": "flush",
 "resolve": {"scale": {"color": "independent", "shape": "independent"}, "legend": {"color": "independent", "shape": "independent"}},
 "config": {
  "font": "Liberation Serif",
  "view": {"stroke": "black", "strokeWidth": 3},
  "legend": {"orient": "none", "padding": 0, "symbolSize": 289, "symbolStrokeWidth": 3, "symbolOffset": 7.5, "labelOffset": 18, "labelFont": "Liberation Serif", "labelFontSize": 53, "labelColor": "black", "labelLimit": 0, "symbolOpacity": 1},
  "axis": {"domainColor": "black", "domainWidth": 3, "tickColor": "black", "tickWidth": 3, "tickSize": -10, "labelFont": "Liberation Serif", "labelFontSize": 53, "labelColor": "black", "labelFlush": false, "labelOverlap": false, "titleFont": "Liberation Serif", "titleFontSize": 53, "titleFontWeight": "normal", "titleColor": "black", "grid": false},
  "axisX": {"labelPadding": 30, "titleY": 120, "titleBaseline": "alphabetic"},
  "axisY": {"labelPadding": 29, "titleX": -142, "titleY": 302.5, "titleAngle": 270, "titleBaseline": "alphabetic", "titleAlign": "center"},
  "title": {"font": "Liberation Serif", "fontSize": 53, "fontWeight": "normal", "color": "black"}
 }
}
